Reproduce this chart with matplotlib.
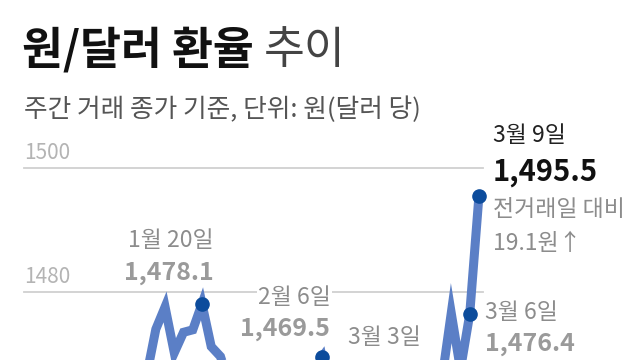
import matplotlib
matplotlib.use('Agg')
import matplotlib.pyplot as plt

plt.rcParams['font.family'] = ['Noto Sans CJK KR', 'DejaVu Sans']

# 주간 거래 종가 (원/달러), 2026-01-02 ~ 2026-03-09 거래일
dates = ['1/2', '1/5', '1/6', '1/7', '1/8', '1/9', '1/12', '1/13', '1/14', '1/15',
         '1/16', '1/19', '1/20', '1/21', '1/22', '1/23', '1/26', '1/27', '1/28', '1/29',
         '1/30', '2/2', '2/3', '2/4', '2/5', '2/6', '2/9', '2/10', '2/11', '2/12',
         '2/13', '2/19', '2/20', '2/23', '2/24', '2/25', '2/26', '2/27', '3/3', '3/4',
         '3/5', '3/6', '3/9']
rates = [1441.0, 1445.5, 1447.0, 1452.0, 1449.5, 1455.0, 1466.5, 1474.0, 1477.6, 1470.2,
         1473.5, 1473.9, 1478.1, 1471.2, 1469.6, 1465.0, 1455.0, 1447.0, 1440.0, 1442.5,
         1451.0, 1458.0, 1452.0, 1455.5, 1467.5, 1469.5, 1462.0, 1458.5, 1455.0, 1449.0,
         1445.5, 1448.0, 1444.5, 1440.0, 1446.0, 1443.0, 1438.5, 1442.0, 1466.0, 1476.6,
         1467.5, 1476.4, 1495.5]

# 강조 지점
marked_dates = ['1/20', '2/6', '3/3', '3/6', '3/9']
grid_values = [1480, 1500]

line_color = '#5b7fc6'
dot_color = '#0c4c9c'
label_gray = '#8c8c8c'
value_gray = '#9a9a9a'

fig = plt.figure(figsize=(6.4, 3.6), dpi=100)
ax = fig.add_axes([24 / 640, 0, (483 - 24) / 640, 1 - 168 / 360])
ax.set_ylim(1480 - 68 / 6.2, 1500)
ax.set_xlim(-7.28, 42.44)
ax.axis('off')

x = list(range(len(dates)))
for g in grid_values:
    ax.axhline(g, color='#d0d0d0', lw=1.3, zorder=0, clip_on=False)
    ax.annotate(str(g), xy=(0, g), xycoords=ax.get_yaxis_transform(),
                xytext=(0, 3), textcoords='offset points', ha='left', va='bottom',
                fontsize=15, color='#b4b4b4')

ax.plot(x, rates, color=line_color, lw=6.5, solid_joinstyle='miter',
        solid_capstyle='butt', zorder=2)

mx = [dates.index(d) for d in marked_dates]
my = [rates[i] for i in mx]
ax.plot(mx, my, 'o', ms=9.5, color=dot_color, zorder=3, clip_on=False)

white = dict(facecolor='white', edgecolor='none', pad=1)

def label(idx, text, dx, dy, ha, size, color, weight='normal', box=False):
    ax.annotate(text, xy=(idx, rates[idx]), xytext=(dx * 0.72, -dy * 0.72),
                textcoords='offset points', ha=ha, va='center', fontsize=size,
                color=color, fontweight=weight, zorder=4,
                bbox=white if box else None, annotation_clip=False)

i = dates.index('1/20')
label(i, '1월 20일', 12, -63, 'right', 16.5, label_gray)
label(i, '{:,.1f}'.format(rates[i]), 12, -31, 'right', 18, value_gray, 'bold')

i = dates.index('2/6')
label(i, '2월 6일', 9, -60, 'right', 16.5, label_gray, box=True)
label(i, '{:,.1f}'.format(rates[i]), 8, -28, 'right', 18, value_gray, 'bold')

i = dates.index('3/3')
label(i, '3월 3일', -21, -41, 'right', 16.5, label_gray)

i = dates.index('3/6')
label(i, '3월 6일', 15, -2, 'left', 16.5, label_gray)
label(i, '{:,.1f}'.format(rates[i]), 15, 30, 'left', 18, value_gray, 'bold')

i = dates.index('3/9')
label(i, '3월 9일', 14, -60, 'left', 16.5, '#222222')
label(i, '{:,.1f}'.format(rates[i]), 14, -24, 'left', 21, '#111111', 'bold')
label(i, '전거래일 대비', 14, 14, 'left', 16.5, label_gray)
diff = rates[i] - rates[i - 1]
label(i, '{:.1f}원↑'.format(diff), 14, 48, 'left', 16.5, label_gray)

t = fig.text(22 / 640, 1 - 50 / 360, '원/달러 환율', fontsize=32, fontweight='bold',
             color='#111111', va='center', ha='left')
fig.canvas.draw()
ax.annotate('추이', xy=(1, 0), xycoords=t, xytext=(7, 0), textcoords='offset points',
            ha='left', va='bottom', fontsize=32, color='#444444', annotation_clip=False)
fig.text(24 / 640, 1 - 110 / 360, '주간 거래 종가 기준, 단위: 원(달러 당)', fontsize=18.5,
         color='#555555', va='center', ha='left')

fig.savefig('out.png', dpi=100, facecolor='white')
